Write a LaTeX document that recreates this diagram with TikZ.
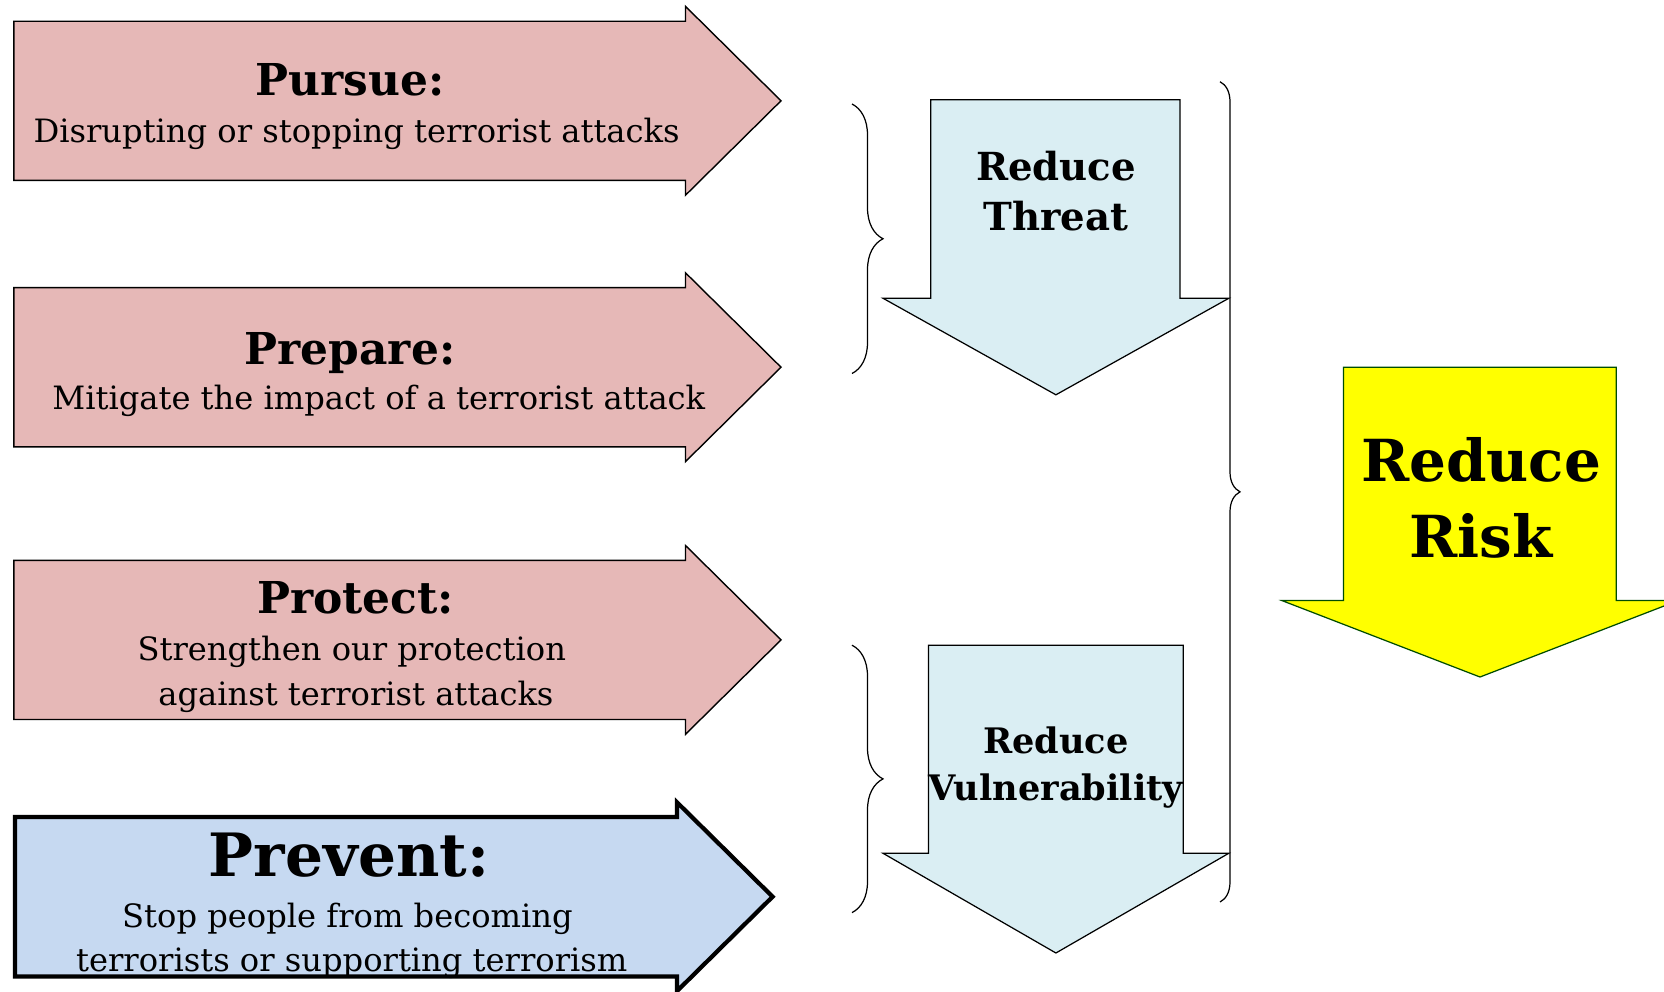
\documentclass[tikz,border=0pt]{standalone}
\usepackage{fontspec}
\setmainfont{DejaVu Serif}
\usetikzlibrary{decorations.pathreplacing}
\definecolor{pinkfill}{HTML}{E6B8B7}
\definecolor{preventfill}{HTML}{C6D9F1}
\definecolor{reducefill}{HTML}{DAEEF3}
\definecolor{riskfill}{HTML}{FFFF00}
\tikzset{
  pinkarrow/.style={draw=black,line width=0.8pt,fill=pinkfill},
  preventarrow/.style={draw=black,line width=2.4pt,fill=preventfill,line join=miter},
  downarrow/.style={draw=black,line width=0.7pt,fill=reducefill},
  riskarrow/.style={draw=black!70!green,line width=0.7pt,fill=riskfill},
  bracedeco/.style={draw=black,line width=0.7pt,decorate},
  head/.style={anchor=base,font=\bfseries\fontsize{25}{30}\selectfont},
  sub/.style={anchor=base,font=\fontsize{18.3}{22}\selectfont},
}
\begin{document}
\begin{tikzpicture}[x=0.02cm,y=-0.02cm]
\clip (0,0) rectangle (1664,991);
% four right arrows
\draw[pinkarrow] (13.8,21.2) -- (685.5,21.2) -- (685.5,6.4) -- (781,100.8)
  -- (685.5,195.2) -- (685.5,180.4) -- (13.8,180.4) -- cycle;
\draw[pinkarrow] (13.8,287.6) -- (685.5,287.6) -- (685.5,272.8) -- (781,367.2)
  -- (685.5,461.6) -- (685.5,446.8) -- (13.8,446.8) -- cycle;
\draw[pinkarrow] (13.8,560.3) -- (685.5,560.3) -- (685.5,545.5) -- (781,639.9)
  -- (685.5,734.3) -- (685.5,719.5) -- (13.8,719.5) -- cycle;
\draw[preventarrow] (15,817) -- (677,817) -- (677,802.3) -- (772.6,896.7)
  -- (677,991.1) -- (677,976.4) -- (15,976.4) -- cycle;
% down arrows
\draw[downarrow] (930.7,99.8) -- (1180.1,99.8) -- (1180.1,298.2) -- (1228.9,298.2)
  -- (1055.9,394.8) -- (882.9,298.2) -- (930.7,298.2) -- cycle;
\draw[downarrow] (928.6,645.2) -- (1183.2,645.2) -- (1183.2,853.2) -- (1228.9,853.2)
  -- (1055.9,953) -- (882.9,853.2) -- (928.6,853.2) -- cycle;
\draw[riskarrow] (1343.5,367.2) -- (1616.2,367.2) -- (1616.2,600.6) -- (1678,600.6)
  -- (1480,677) -- (1282,600.6) -- (1343.5,600.6) -- cycle;
% labels
\node[head] (pursue) at (350,95.5) {Pursue:};
\node[sub] (pursuetext) at (356.6,142.2) {Disrupting or stopping terrorist attacks};
\node[head] (prepare) at (350,364) {Prepare:};
\node[sub] (preparetext) at (378.8,409.6) {Mitigate the impact of a terrorist attack};
\node[head] (protect) at (355.5,613.4) {Protect:};
\node[sub] (protecttexta) at (351.8,660) {Strengthen our protection};
\node[sub] (protecttextb) at (356,705.7) {against terrorist attacks};
\node[head,font=\bfseries\fontsize{34}{40}\selectfont] (prevent) at (349,876.5) {Prevent:};
\node[sub] (preventtexta) at (347.5,927.5) {Stop people from becoming};
\node[sub] (preventtextb) at (351.8,971) {terrorists or supporting terrorism};
\node[head,font=\bfseries\fontsize{22}{26}\selectfont] (threata) at (1056,180.4) {Reduce};
\node[head,font=\bfseries\fontsize{22}{26}\selectfont] (threatb) at (1056,230.3) {Threat};
\node[head,font=\bfseries\fontsize{20}{24}\selectfont] (vulna) at (1056,753.4) {Reduce};
\node[head,font=\bfseries\fontsize{20}{24}\selectfont] (vulnb) at (1056,800) {Vulnerability};
\node[head,font=\bfseries\fontsize{33}{40}\selectfont] (riska) at (1481,481.8) {Reduce};
\node[head,font=\bfseries\fontsize{33}{40}\selectfont] (riskb) at (1481,557) {Risk};
% braces
\coordinate (bracea1) at (852,104);
\coordinate (bracea2) at (852,373.5);
\coordinate (braceb1) at (852,645.2);
\coordinate (braceb2) at (852,912.6);
\coordinate (bracec1) at (1220,81.7);
\coordinate (bracec2) at (1220,902);
\draw[bracedeco,decoration={brace,amplitude=0.62cm}] (bracea1) -- (bracea2);
\draw[bracedeco,decoration={brace,amplitude=0.62cm}] (braceb1) -- (braceb2);
\draw[bracedeco,decoration={brace,amplitude=0.4cm}] (bracec1) -- (bracec2);
\end{tikzpicture}
\end{document}
